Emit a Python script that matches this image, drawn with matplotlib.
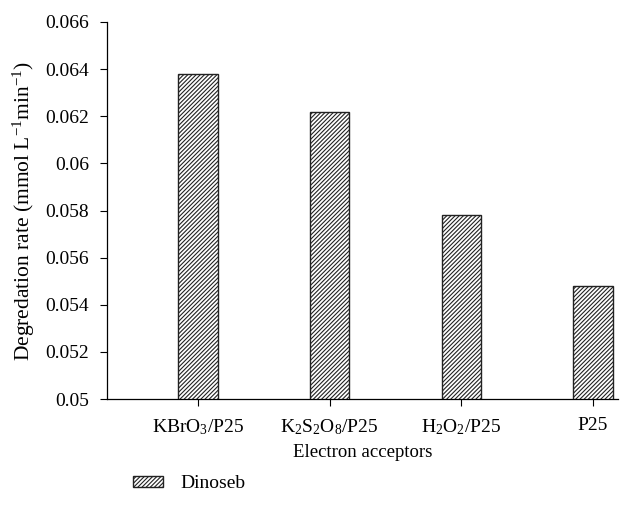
import numpy as np
import matplotlib
matplotlib.use("Agg")
import matplotlib.pyplot as plt

plt.rcParams['font.family'] = ['Liberation Serif', 'DejaVu Serif']
plt.rcParams['mathtext.default'] = 'regular'
plt.rcParams['hatch.linewidth'] = 0.8

# data
acceptors = ["KBrO$_3$/P25", "K$_2$S$_2$O$_8$/P25", "H$_2$O$_2$/P25", "P25"]
rates = [0.0638, 0.0622, 0.0578, 0.0548]
yticks = [0.05, 0.052, 0.054, 0.056, 0.058, 0.06, 0.062, 0.064, 0.066]
ytick_labels = ["0.05", "0.052", "0.054", "0.056", "0.058", "0.06", "0.062", "0.064", "0.066"]

fig = plt.figure(figsize=(6.21, 5.07), dpi=100)
ax = fig.add_axes([107/621, 1-399/507, (618-107)/621, (399-22)/507])

x = np.arange(len(acceptors))
ax.bar(x, rates, width=0.30, color='white', edgecolor='#222222',
       hatch='////////', linewidth=1.0, label='Dinoseb')

ax.set_ylim(0.05, 0.066)
ax.set_xlim(-0.69, 3.19)
ax.set_yticks(yticks)
ax.set_yticklabels(ytick_labels)
ax.set_xticks(x)
ax.set_xticklabels(acceptors)
ax.tick_params(direction='out', length=5, width=0.8, labelsize=14)
ax.tick_params(axis='x', pad=8)
ax.tick_params(axis='y', pad=8)
for s in ['top', 'right']:
    ax.spines[s].set_visible(False)
for s in ['left', 'bottom']:
    ax.spines[s].set_linewidth(0.9)

ax.set_xlabel("Electron acceptors", fontsize=13.5, labelpad=5)
ax.set_ylabel("Degredation rate (mmol L$^{\u2212 1}$min$^{\u2212 1}$)", fontsize=15.5, labelpad=6)

fig.legend(loc='center left', bbox_to_anchor=(133/621, 1-484/507), frameon=False,
           fontsize=14, handlelength=1.55, handleheight=0.55, handletextpad=0.9,
           borderpad=0, borderaxespad=0)

fig.savefig("out.png", dpi=100)
